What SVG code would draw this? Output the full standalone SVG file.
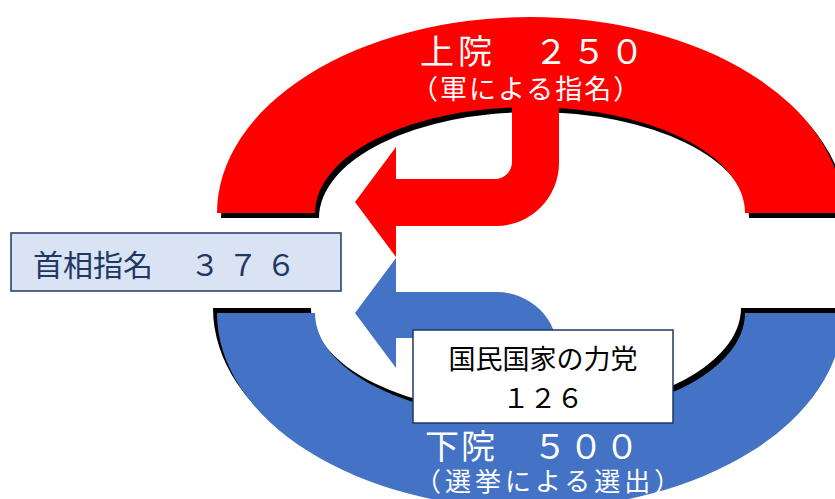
<svg xmlns="http://www.w3.org/2000/svg" xmlns:xlink="http://www.w3.org/1999/xlink" width="835" height="499" viewBox="0 0 835 499">
  <style>
    .jp { font-family: "Noto Sans CJK JP", "Noto Sans CJK SC", sans-serif; }
    .white { fill: #FFFFFF; }
    .navy { fill: #1F3864; }
    .box { stroke: #1F3864; stroke-width: 1.5; }
    .shadow { fill: #000000; }
  </style>
  <defs>
    <path id="upperArc" d="M217,213 A313,196 0 0 1 843,213 L745,213 A215,106 0 0 0 315,213 Z"/>
    <path id="lowerArc" d="M217,313 A313,196 0 0 0 843,313 L745,313 A215,106 0 0 1 315,313 Z"/>
  </defs>
  <rect width="835" height="499" fill="#FFFFFF"/>

  <g id="upper-house">
    <use xlink:href="#upperArc" href="#upperArc" class="shadow" transform="translate(4,5)"/>
    <use xlink:href="#upperArc" href="#upperArc" fill="#FF0000"/>
  </g>

  <g id="lower-house">
    <use xlink:href="#lowerArc" href="#lowerArc" class="shadow" transform="translate(-4,-5)"/>
    <use xlink:href="#lowerArc" href="#lowerArc" fill="#4472C4"/>
  </g>

  <g id="connectors">
    <path id="arrow-upper" fill="#FF0000" d="M355,202 L396,147 L396,179 L495,179 A17,17 0 0 0 512,162 L512,100 L559,100 L559,163 A63,63 0 0 1 496,226 L396,226 L396,257 Z"/>
    <path id="arrow-lower" fill="#4472C4" d="M355,313 L396,258 L396,292 L497,292 A61,61 0 0 1 558,353 L558,424 L512,424 L512,355 A17,17 0 0 0 495,338 L396,338 L396,368 Z"/>
  </g>

  <g id="upper-label" class="jp white">
    <text x="420" y="64" font-size="34" letter-spacing="4">上院　２５０</text>
    <text x="411" y="99" font-size="27" letter-spacing="2">（軍による指名）</text>
  </g>

  <g id="pm-box">
    <rect x="11" y="233" width="330" height="58" fill="#DAE3F3" class="box"/>
    <text class="jp navy" x="33" y="276" font-size="30"><tspan>首相指名</tspan><tspan x="190" letter-spacing="8">３７６</tspan></text>
  </g>

  <g id="party-box">
    <rect x="413" y="330" width="260" height="93" fill="#FFFFFF" class="box"/>
    <text class="jp" x="543" y="369" font-size="27" text-anchor="middle" fill="#000000">国民国家の力党</text>
    <text class="jp" x="543" y="408" font-size="27" text-anchor="middle" fill="#000000">１２６</text>
  </g>

  <g id="lower-label" class="jp white">
    <text x="425" y="459" font-size="34" letter-spacing="2">下院　５００</text>
    <text x="415" y="491" font-size="26" letter-spacing="4">（選挙による選出）</text>
  </g>
</svg>
